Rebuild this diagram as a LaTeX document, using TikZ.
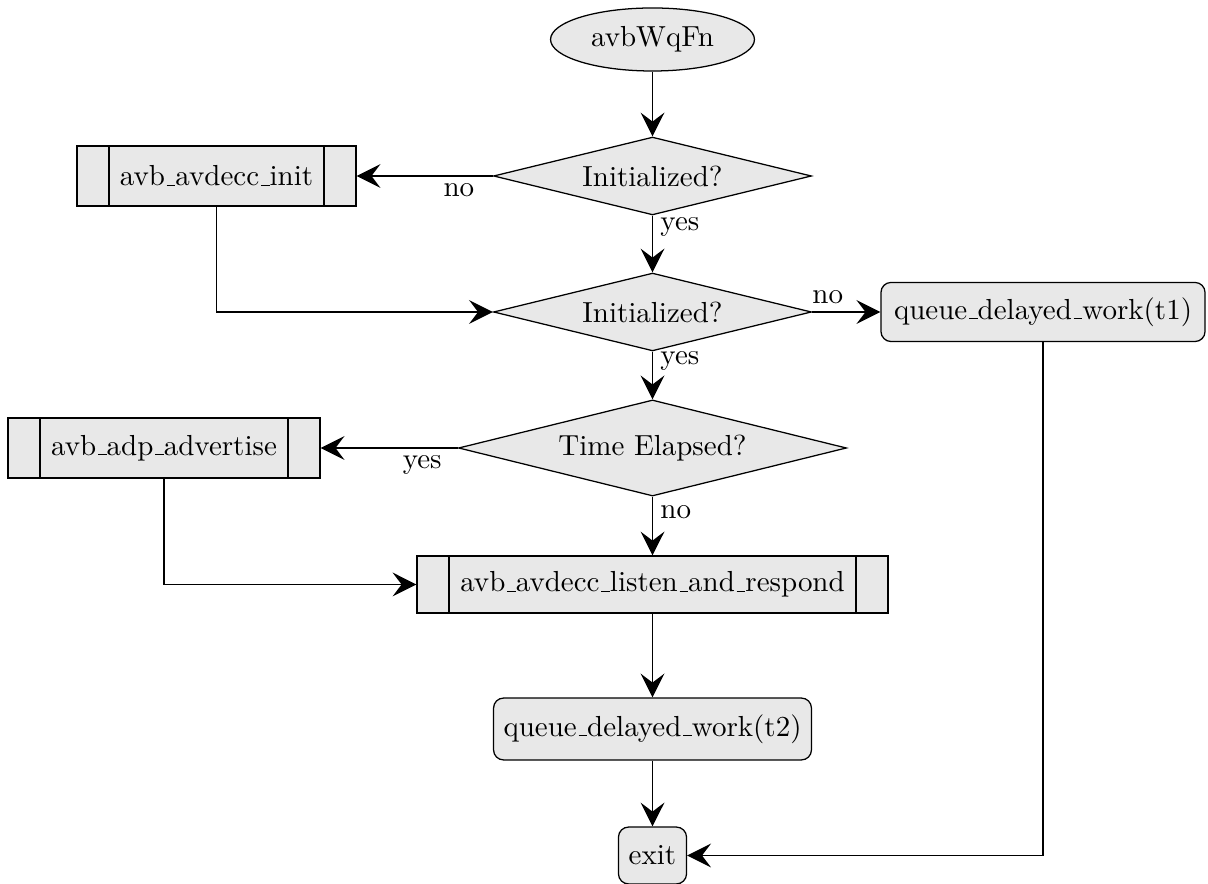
\documentclass[tikz,border=0pt]{standalone}
\usetikzlibrary{shapes.geometric,arrows.meta}

% short underscore rule, as in classic TeX fonts
\newcommand{\us}{\leavevmode\kern.06em\vbox{\hrule width.3em}}

\tikzset{
  every node/.style={font=\fontsize{10.35pt}{12.4pt}\selectfont},
  base/.style={draw, fill=gray!18, inner sep=0pt, line width=0.45pt},
  startnode/.style={base, ellipse, minimum width=72.8pt, minimum height=22.5pt},
  decision/.style={base, diamond, aspect=4.1, minimum width=113.5pt, minimum height=27.8pt},
  widedecision/.style={base, diamond, aspect=4.1, minimum width=138.5pt, minimum height=34.3pt},
  procnode/.style={base, rectangle, minimum height=21.4pt,
    path picture={
      \draw[line width=0.45pt] ([xshift=11.4pt]path picture bounding box.north west) -- ([xshift=11.4pt]path picture bounding box.south west);
      \draw[line width=0.45pt] ([xshift=-11.4pt]path picture bounding box.north east) -- ([xshift=-11.4pt]path picture bounding box.south east);
    }},
  worknode/.style={base, rectangle, rounded corners=3.6pt, minimum height=21.4pt},
  arr/.style={line width=0.7pt, -{Stealth[length=8.5pt, width=8.5pt, inset=3.2pt]}},
  lbl/.style={inner sep=2.5pt}
}

\begin{document}
\begin{tikzpicture}[x=0.357pt, y=-0.357pt]
  \useasboundingbox (0,0) rectangle (1208,884);

  % nodes
  \node[startnode] (start) at (652.5,39.5) {avbWqFn};
  \node[decision] (init1) at (652.5,176) {Initialized?};
  \node[procnode, minimum width=99.6pt] (avinit) at (216.5,176) {avb\us avdecc\us init};
  \node[decision] (init2) at (652.5,312) {Initialized?};
  \node[worknode, minimum width=115.7pt, minimum height=21.1pt] (qdw1) at (1043,312) {queue\us delayed\us work(t1)};
  \node[widedecision] (elapsed) at (652.5,448) {Time Elapsed?};
  \node[procnode, minimum width=111.4pt] (adv) at (164,448) {avb\us adp\us advertise};
  \node[procnode, minimum width=168.1pt, minimum height=20.3pt] (listen) at (652.5,584.5) {avb\us avdecc\us listen\us and\us respond};
  \node[worknode, minimum width=113.5pt, minimum height=22.1pt] (qdw2) at (652.5,729) {queue\us delayed\us work(t2)};
  \node[worknode, minimum width=24.3pt, minimum height=20.3pt] (exit) at (652.5,855.5) {exit};

  % connectors
  \draw[arr] (start) -- (init1);
  \draw[arr] (init1.west) -- node[lbl, below, pos=0.25] {no} (avinit.east);
  \draw[arr] (init1.south) -- node[lbl, right, pos=0.2] {yes} (init2.north);
  \draw[arr] (avinit.south) |- (init2.west);
  \draw[arr] (init2.east) -- node[lbl, above, pos=0.23] {no} (qdw1.west);
  \draw[arr] (init2.south) -- node[lbl, right, pos=0.2] {yes} (elapsed.north);
  \draw[arr] (elapsed.west) -- node[lbl, below, pos=0.26] {yes} (adv.east);
  \draw[arr] (elapsed.south) -- node[lbl, right, pos=0.27] {no} (listen.north);
  \draw[arr] (adv.south) |- (listen.west);
  \draw[arr] (listen.south) -- (qdw2.north);
  \draw[arr] (qdw2.south) -- (exit.north);
  \draw[arr] (qdw1.south) |- (exit.east);
\end{tikzpicture}
\end{document}
